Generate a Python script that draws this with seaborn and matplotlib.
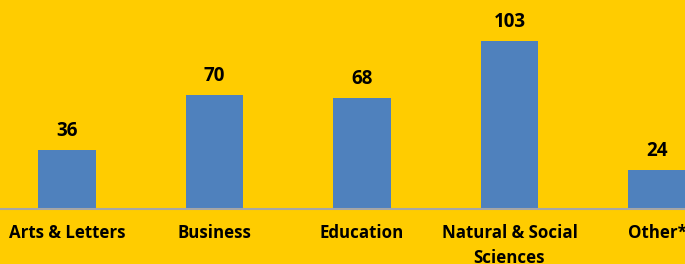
import matplotlib
matplotlib.use("Agg")
import matplotlib.pyplot as plt
import seaborn as sns
import pandas as pd

# data
categories = ["Arts & Letters", "Business", "Education", "Natural & Social\nSciences", "Other*"]
counts = [36, 70, 68, 103, 24]

bg = "#FFCC00"
bar_color = "#4F81BD"

sns.set_theme(style="white")
plt.rcParams["font.family"] = ["Open Sans", "DejaVu Sans"]

df = pd.DataFrame({"category": categories, "count": counts})

fig = plt.figure(figsize=(6.85, 2.64), dpi=100, facecolor=bg)
ax = fig.add_axes([0, 0.2083, 1, 0.7917])
ax.set_facecolor(bg)

sns.barplot(data=df, x="category", y="count", color=bar_color, width=0.39,
            saturation=1, linewidth=0, ax=ax)

ax.set_xlim(-0.454, 4.19)
ax.set_ylim(0, 128)

# value labels
for i, v in enumerate(counts):
    ax.text(i, v + 8.6, str(v), ha="center", va="baseline",
            fontsize=13.5, fontweight="bold", color="black")

ax.set_xlabel("")
ax.set_ylabel("")
ax.set_yticks([])
ax.tick_params(axis="x", length=0, pad=11)
for lbl in ax.get_xticklabels():
    lbl.set_fontsize(12.2)
    lbl.set_fontweight("bold")
    lbl.set_color("black")
    lbl.set_verticalalignment("top")
    lbl.set_linespacing(1.5)

for side in ["top", "left", "right"]:
    ax.spines[side].set_visible(False)
ax.spines["bottom"].set_color("#A6A6A6")
ax.spines["bottom"].set_linewidth(1.5)

fig.savefig("out.png", dpi=100, facecolor=bg)
